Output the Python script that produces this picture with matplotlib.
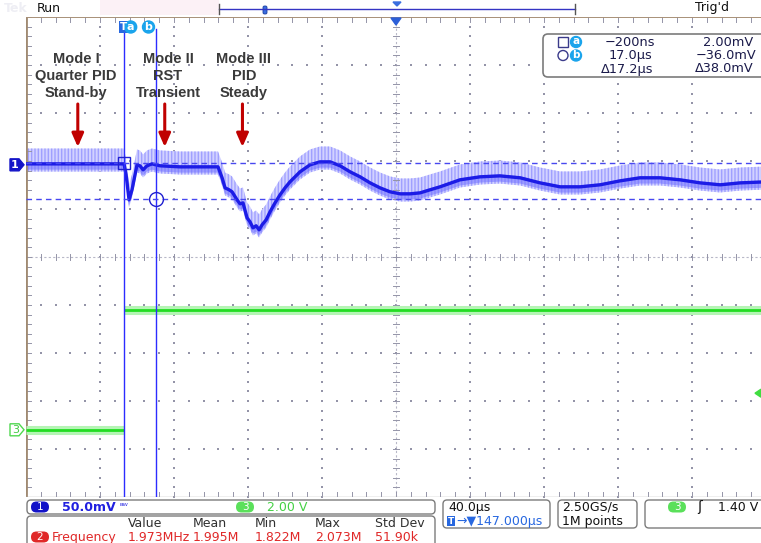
import numpy as np
import matplotlib.pyplot as plt
from matplotlib.patches import FancyBboxPatch, Rectangle, Polygon, Circle

# ---- values ----
# channel 1 (50 mV/div): time in us from trigger, level in mV
ch1_t = [-53.0, 0.0, 1.1, 2.7, 4.3, 7.0, 8.6, 10.3, 12.4, 15.1,
         19.5, 30.3, 41.1, 50.8, 53.0, 54.6, 56.8, 58.4, 61.1, 62.7,
         64.3, 66.5, 68.1, 69.7, 71.4, 73.0, 74.6, 76.8, 78.9, 81.6,
         84.3, 87.0, 89.7, 95.1, 100.5, 105.9, 111.4, 116.8, 122.2, 127.6,
         133.0, 138.4, 143.8, 149.2, 154.6, 160.0, 165.4, 170.8, 181.6, 192.4,
         203.2, 214.1, 224.9, 235.7, 246.5, 257.3, 268.1, 278.9, 289.7, 300.5,
         311.4, 322.2, 333.0, 347.0]
ch1_mv = [1.0, 1.0, -10.4, -36.5, -26.0, 0.0, -1.0, -5.2, -1.0, 1.0,
          -1.0, -2.1, -2.1, -2.1, -13.5, -24.0, -26.0, -28.1, -36.5, -40.6,
          -39.6, -55.2, -59.4, -65.6, -63.5, -67.7, -62.5, -57.3, -49.0, -39.6,
          -31.3, -24.0, -17.7, -7.3, 0.0, 3.1, 3.1, -1.0, -7.3, -12.5,
          -18.8, -24.0, -28.1, -30.2, -30.2, -29.2, -26.0, -22.9, -15.6, -12.5,
          -11.5, -13.5, -18.8, -22.9, -22.9, -20.8, -16.7, -13.5, -13.5, -15.6,
          -18.8, -20.8, -18.8, -17.7]
ch1_env_up = 16.0   # mV, light envelope above the trace
ch1_env_dn = 8.0    # mV, below

# channel 3 (2 V/div): gate signal, low before trigger, high after
ch3_low_t = [-53.0, 0.0]
ch3_low_v = [0.0, 0.0]
ch3_high_t = [0.0, 347.0]
ch3_high_v = [5.0, 5.0]

cursor_t = [-0.2, 17.0]     # us
cursor_mv = [2.0, -36.0]    # mV

modes = ['Mode I\nQuarter PID\nStand-by', 'Mode II\nRST\nTransient', 'Mode III\nPID\nSteady']
mode_t = [-25.0, 22.0, 64.0]   # arrows, us

meas_head = ['Value', 'Mean', 'Min', 'Max', 'Std Dev']
meas_vals = ['1.973MHz', '1.995M', '1.822M', '2.073M', '51.90k']

# scope settings
t_div, t_center = 40.0, 147.0
ch1_scale, ch1_off = 50.0, 1.92
ch3_scale, ch3_off = 2.0, -3.6
trig_level = 1.40

W, H = 761, 543
X0, Y0, XW, YH = 26, 17, 740, 480

fig = plt.figure(figsize=(W / 100, H / 100), dpi=100)
ax = fig.add_axes([X0 / W, 1 - (Y0 + YH) / H, XW / W, YH / H])
t_lo, t_hi = t_center - 5 * t_div, t_center + 5 * t_div
ax.set_xlim(t_lo, t_hi)
ax.set_ylim(-5, 5)
ax.axis('off')


def px(t):
    return X0 + (t - t_lo) / (t_hi - t_lo) * XW


def py(d):
    return Y0 + (5 - d) / 10 * YH


# graticule
gcol = '#9494a8'
xmaj = t_center + t_div * np.arange(-4, 5)
ymin_ = np.arange(-5, 5.001, 0.2)
xmin_ = np.arange(t_lo, t_hi + 0.01, t_div / 5)
for xm in xmaj:
    if xm == t_center:
        continue
    ax.scatter(np.full_like(ymin_, xm), ymin_, s=1.2, marker='s', color=gcol, lw=0)
for ym in range(-4, 5):
    if ym == 0:
        continue
    ax.scatter(xmin_, np.full_like(xmin_, ym), s=1.2, marker='s', color=gcol, lw=0)
ax.plot([t_center, t_center], [-5, 5], color='#b8b8c8', lw=0.8, ls=(0, (2, 2)))
ax.plot([t_lo, t_hi], [0, 0], color='#b8b8c8', lw=0.8, ls=(0, (2, 2)))
dx = 2.6 * t_div / 74
dy = 2.6 / 48
for yy in ymin_:
    ax.plot([t_center - dx, t_center + dx], [yy, yy], color=gcol, lw=0.7)
    ax.plot([t_lo, t_lo + 2 * dx], [yy, yy], color=gcol, lw=0.7)
for xx in xmin_:
    ax.plot([xx, xx], [-dy, dy], color=gcol, lw=0.7)
    ax.plot([xx, xx], [5, 5 - 2 * dy], color=gcol, lw=0.7)
    ax.plot([xx, xx], [-5, -5 + 2 * dy], color=gcol, lw=0.7)
ax.plot([t_lo, t_lo], [-5, 5], color='#a08a72', lw=2.0)
ax.plot([t_lo, t_hi], [5, 5], color='#a89078', lw=1.4)
ax.plot([t_lo, t_hi], [-5, -5], color='#b0b0b0', lw=1.0)

# channel 1
t1 = np.array(ch1_t)
v1 = np.array(ch1_mv)
d1 = v1 / ch1_scale + ch1_off
up = (v1 + ch1_env_up) / ch1_scale + ch1_off
dn = (v1 - ch1_env_dn) / ch1_scale + ch1_off
plt.rcParams['hatch.linewidth'] = 1.0
ax.fill_between(t1, dn, up, facecolor='#d2d2ff', edgecolor='#a0a0ff', hatch='|||||', lw=0)
ax.fill_between(t1, (v1 - 6) / ch1_scale + ch1_off, (v1 + 1.5) / ch1_scale + ch1_off,
                facecolor='#7070ff', alpha=0.55, lw=0)
ax.plot(t1, d1, color='#1c1ce6', lw=2.4, solid_capstyle='butt')

# channel 3
for tt, vv in [(ch3_low_t, ch3_low_v), (ch3_high_t, ch3_high_v)]:
    d3 = np.array(vv) / ch3_scale + ch3_off
    ax.plot(tt, d3, color='#b4f5b4', lw=6.5, solid_capstyle='butt')
    ax.plot(tt, d3, color='#22dd22', lw=2.0, solid_capstyle='butt')

# cursors
ccol = '#2c2cff'
for ct in cursor_t:
    ax.plot([ct, ct], [-5, 4.75], color=ccol, lw=1.0)
for cm in cursor_mv:
    ax.plot([t_lo, t_hi], [cm / ch1_scale + ch1_off] * 2, color='#4848f0', lw=1.0, ls=(0, (4, 3)))
ax.plot(cursor_t[0], cursor_mv[0] / ch1_scale + ch1_off, marker='s', ms=9, mfc='none', mec='#2020d0', mew=1)
ax.plot(cursor_t[1], cursor_mv[1] / ch1_scale + ch1_off, marker='o', ms=10, mfc='none', mec='#2020d0', mew=1)

# ---- screen chrome, pixel coordinates ----
ui = fig.add_axes([0, 0, 1, 1], zorder=5)
ui.set_xlim(0, W)
ui.set_ylim(H, 0)
ui.axis('off')
F = 'DejaVu Sans'

ui.add_patch(Rectangle((100, 0), 119, 15, color='#fcf1f6', lw=0))
ui.text(4, 8, 'Tek', fontsize=9, color='#eeeef4', va='center', family=F, weight='bold')
ui.text(37, 8, 'Run', fontsize=9, color='#111111', va='center', family=F)
ui.text(695, 8, "Trig'd", fontsize=9, color='#111111', va='center', family=F)
ui.plot([219, 575], [9, 9], color='#3434c4', lw=1)
ui.plot([219, 219], [4, 14], color='#555555', lw=1)
ui.plot([575, 575], [4, 14], color='#555555', lw=1)
ui.add_patch(FancyBboxPatch((263, 6), 4, 8, boxstyle='round,pad=0,rounding_size=1.5',
                            fc='#3a6ee0', ec='#1a3ea0', lw=0.6))
ui.add_patch(Polygon([[393, 2], [401, 2], [397, 6]], color='#3a6ee0'))
ui.add_patch(Polygon([[px(t_center) - 5, Y0 + 1], [px(t_center) + 5, Y0 + 1], [px(t_center), Y0 + 8]],
                     color='#2c5fd8'))

# cursor tags
ui.add_patch(Rectangle((119, 21), 9, 12, color='#2868e0', lw=0))
ui.text(123.5, 27.5, 'T', fontsize=7.5, color='white', ha='center', va='center', weight='bold', family=F)
for xx, lab in [(px(cursor_t[0]) + 7, 'a'), (px(cursor_t[1]) - 7, 'b')]:
    ui.add_patch(Circle((xx, 27), 6, color='#1aa4ec'))
    ui.text(xx, 26.5, lab, fontsize=8, color='white', ha='center', va='center', weight='bold', family=F)

# channel markers
y1 = py(ch1_off)
ui.add_patch(Polygon([[10, y1 - 6], [19, y1 - 6], [24, y1], [19, y1 + 6], [10, y1 + 6]],
                     fc='#1414c8', ec='#1414c8'))
ui.text(15, y1, '1', fontsize=8, color='white', ha='center', va='center', weight='bold', family=F)
y3 = py(ch3_off)
ui.add_patch(Polygon([[10, y3 - 6], [19, y3 - 6], [24, y3], [19, y3 + 6], [10, y3 + 6]],
                     fc='white', ec='#50d850', lw=1))
ui.text(15.5, y3, '3', fontsize=8, color='#40cc40', ha='center', va='center', family=F)
yt = py(trig_level / ch3_scale + ch3_off) - 3
ui.add_patch(Polygon([[755, yt], [761, yt - 4], [761, yt + 4]], color='#40dd40'))

# cursor readout
tcol = '#1a1a4a'
ui.add_patch(FancyBboxPatch((543, 34), 240, 43, boxstyle='round,pad=0,rounding_size=5',
                            fc='white', ec='#7c7c7c', lw=1.2))
for row, (sym, lab) in enumerate([('s', 'a'), ('o', 'b')]):
    yy = 42 + row * 13.5
    if sym == 's':
        ui.add_patch(Rectangle((558, yy - 5), 10, 10, fc='none', ec='#3a3a8a', lw=1))
    else:
        ui.add_patch(Circle((563, yy), 5, fc='none', ec='#3a3a8a', lw=1))
    ui.add_patch(Circle((576, yy), 5.5, color='#1aa4ec'))
    ui.text(576, yy - 0.5, lab, fontsize=7.5, color='white', ha='center', va='center', weight='bold', family=F)
readout = [(630, 42, '\u2212200ns'), (728, 42, '2.00mV'),
           (630, 55.5, '17.0\u00b5s'), (726, 55.5, '\u221236.0mV'),
           (627, 69, '\u039417.2\u00b5s'), (724, 69, '\u039438.0mV')]
for rx, ry, rt in readout:
    ui.text(rx, ry, rt, fontsize=9.3, color=tcol, ha='center', va='center', family=F)

# mode annotations
for lab, mt, cx in zip(modes, mode_t, [76, 168, 244]):
    ui.text(cx, 76, lab, fontsize=10.5, color='#3a3a3a', ha='center', va='center',
            family='Liberation Sans', weight='bold', linespacing=1.25)
    ui.annotate('', xy=(px(mt), 147), xytext=(px(mt), 104),
                arrowprops=dict(arrowstyle='-|>,head_width=0.35,head_length=0.8',
                                color='#c00000', lw=2.2, shrinkA=0, shrinkB=0))

# bottom status boxes
ui.add_patch(FancyBboxPatch((27, 500), 408, 14, boxstyle='round,pad=0,rounding_size=4',
                            fc='white', ec='#7c7c7c', lw=1))
ui.add_patch(FancyBboxPatch((27, 516), 408, 40, boxstyle='round,pad=0,rounding_size=4',
                            fc='white', ec='#7c7c7c', lw=1))
for x0, w in [(443, 107), (558, 79), (645, 140)]:
    ui.add_patch(FancyBboxPatch((x0, 500), w, 28, boxstyle='round,pad=0,rounding_size=4',
                                fc='white', ec='#7c7c7c', lw=1))


def pill(x, y, txt, fc, tc='white'):
    ui.add_patch(FancyBboxPatch((x - 9, y - 5.5), 18, 11, boxstyle='round,pad=0,rounding_size=5.5',
                                fc=fc, ec=fc, lw=0))
    ui.text(x, y, txt, fontsize=7.5, color=tc, ha='center', va='center', family=F)


pill(40, 507, '1', '#1212c8')
ui.text(62, 507.5, '50.0mV', fontsize=9, color='#2020e0', va='center', family=F, weight='bold')
ui.text(119, 506, 'ᴮᵂ', fontsize=6, color='#2020e0', va='center', family=F)
pill(245, 507, '3', '#5ae05a')
ui.text(267, 507.5, '2.00 V', fontsize=9, color='#44d044', va='center', family=F)

xs_meas = [128, 193, 255, 315, 375]
for xm, hd, vl in zip(xs_meas, meas_head, meas_vals):
    ui.text(xm, 523.5, hd, fontsize=9, color='#303030', va='center', family=F)
    ui.text(xm, 537.5, vl, fontsize=9, color='#e02828', va='center', family=F)
pill(40, 537, '2', '#e02828')
ui.text(52, 537.5, 'Frequency', fontsize=9, color='#e02828', va='center', family=F)

ui.text(448, 507.5, '40.0\u00b5s', fontsize=9, color='#111111', va='center', family=F)
ui.add_patch(Rectangle((447, 516), 8, 10, color='#2868e0', lw=0))
ui.text(451, 521, 'T', fontsize=6.5, color='white', ha='center', va='center', weight='bold', family=F)
ui.text(456, 521, '\u2192\u25bc147.000\u00b5s', fontsize=9, color='#2868e0', va='center', family=F)
ui.text(562, 507.5, '2.50GS/s', fontsize=9, color='#111111', va='center', family=F)
ui.text(562, 521.5, '1M points', fontsize=9, color='#111111', va='center', family=F)
pill(677, 507, '3', '#5ae05a')
ui.text(700, 507, '\u0283', fontsize=10, color='#111111', ha='center', va='center', family=F)
ui.text(718, 507.5, '1.40 V', fontsize=9, color='#111111', va='center', family=F)

fig.savefig('out.png', dpi=100)
